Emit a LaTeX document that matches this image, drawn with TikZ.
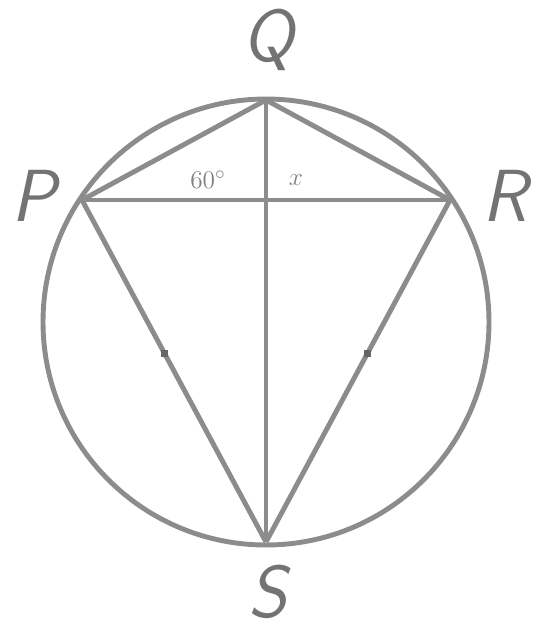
\documentclass[tikz,border=0pt]{standalone}
\usepackage{tikz}
\usetikzlibrary{positioning}

\begin{document}
\begin{tikzpicture}[x=0.02cm, y=-0.02cm, line join=round,
  edge/.style={draw=black!45, line width=2.8pt},
  vlabel/.style={text=black!55, font=\fontsize{42}{42}\sffamily\itshape},
  alabel/.style={text=black!50, font=\fontsize{15}{15}\selectfont},
  tickmark/.style={fill=black!60, minimum size=4pt, inner sep=0pt}]
\useasboundingbox (0,0) rectangle (544,637);
\coordinate (O) at (266,322);
\coordinate (Q) at (266,100);
\coordinate (S) at (266,542);
\coordinate (P) at (82,200);
\coordinate (R) at (450,200);
\draw[edge] (O) circle [radius=223];
\draw[edge] (P)--(R);
\draw[edge] (Q)--(S);
\draw[edge] (P)--(Q)--(R);
\draw[edge] (P)--(S) node[pos=.45, tickmark] (tp) {};
\draw[edge] (R)--(S) node[pos=.45, tickmark] (tr) {};
\node[vlabel] (lq) at (268,40) {Q};
\node[vlabel] (lp) at (34,196) {P};
\node[vlabel] (lr) at (505,196) {R};
\node[vlabel] (ls) at (268,592) {S};
\node[alabel] (a60) at (208,180) {$60^\circ$};
\node[alabel] (ax) at (296,180) {$x$};
\end{tikzpicture}
\end{document}
